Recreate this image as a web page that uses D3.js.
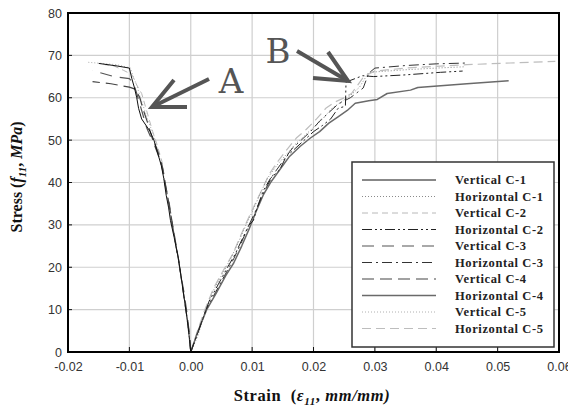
<!DOCTYPE html>
<html><head><meta charset="utf-8">
<script src="https://cdn.jsdelivr.net/npm/d3@7/dist/d3.min.js"></script>
<style>html,body{margin:0;padding:0;background:#fff;}svg{display:block;}</style>
</head><body>
<script>
// ---------- DATA ----------
const seriesNames = ["Vertical C-1","Horizontal C-1","Vertical C-2","Horizontal C-2","Vertical C-3",
  "Horizontal C-3","Vertical C-4","Horizontal C-4","Vertical C-5","Horizontal C-5"];
const xTicks = [-0.02,-0.01,0.00,0.01,0.02,0.03,0.04,0.05,0.06];
const xTickLabels = ["-0.02","-0.01","0.00","0.01","0.02","0.03","0.04","0.05","0.06"];
const yTicks = [0,10,20,30,40,50,60,70,80];
const yTickLabels = ["0","10","20","30","40","50","60","70","80"];

// [strain, stress]
const verticalC1 = [[0,0],[-0.0002,3],[-0.0006,8],[-0.0010,12],[-0.0015,17],[-0.0020,22],[-0.0027,27],[-0.0033,31],[-0.0036,34],[-0.0040,37],[-0.0044,41],[-0.0048,44],[-0.0054,47],[-0.0060,50],[-0.0066,52],[-0.0073,53.5],[-0.0080,55],[-0.0085,57.5],[-0.0088,60],[-0.0092,62.5],[-0.0096,64.5],[-0.0100,67],[-0.0120,67.5],[-0.0150,68.1]];
const horizontalC1 = [[0,0],[0.0012,4],[0.0022,9],[0.0035,14],[0.0050,18],[0.0065,22],[0.0078,26],[0.0090,30],[0.0100,33],[0.0112,37],[0.0125,41],[0.0140,44],[0.0155,46.5],[0.0170,49],[0.0185,51],[0.0200,53],[0.0215,55],[0.0230,57.5],[0.0245,59],[0.0260,60.5],[0.0275,62.5],[0.0290,66],[0.0350,66.6],[0.0400,67],[0.0445,67.3]];
const verticalC2 = [[0,0],[-0.0003,4],[-0.0007,9],[-0.0012,14],[-0.0018,20],[-0.0025,26],[-0.0031,31],[-0.0037,36],[-0.0042,40],[-0.0047,45],[-0.0055,49],[-0.0062,52],[-0.0068,55],[-0.0074,58],[-0.0080,61],[-0.0088,63],[-0.0096,65.5],[-0.0110,66.5],[-0.0125,67.5],[-0.0140,67.8]];
const horizontalC2 = [[0,0],[0.0010,4],[0.0020,8],[0.0030,12],[0.0045,16],[0.0060,20],[0.0072,23],[0.0085,27],[0.0095,30],[0.0102,31],[0.0108,34],[0.0118,38],[0.0130,41],[0.0145,43],[0.0155,46],[0.0170,48],[0.0185,50],[0.0200,52],[0.0215,53.5],[0.0228,55],[0.0240,57.5],[0.0252,58],[0.0253,63.7],[0.0280,65.2],[0.0298,65],[0.0350,65.4],[0.0407,66],[0.0443,66.3]];
const verticalC3 = [[0,0],[-0.0002,4],[-0.0006,9],[-0.0011,14],[-0.0017,19],[-0.0024,25],[-0.0030,30],[-0.0035,35],[-0.0041,39],[-0.0045,43],[-0.0050,46],[-0.0058,49],[-0.0066,51],[-0.0072,53],[-0.0078,56],[-0.0084,59],[-0.0089,61.5],[-0.0094,63.5],[-0.0100,64.5],[-0.0125,65],[-0.0160,66.4]];
const horizontalC3 = [[0,0],[0.0013,5],[0.0025,10],[0.0040,14],[0.0055,18],[0.0070,22],[0.0083,26],[0.0095,30],[0.0108,34],[0.0120,38],[0.0135,42],[0.0150,45],[0.0165,48],[0.0180,50],[0.0195,52],[0.0210,54.5],[0.0225,56.5],[0.0240,58.5],[0.0260,60],[0.0281,62.3],[0.0290,65.8],[0.0300,67],[0.0350,67.6],[0.0400,68],[0.0450,68.2]];
const verticalC4 = [[0,0],[-0.0003,5],[-0.0008,10],[-0.0013,15],[-0.0019,21],[-0.0026,27],[-0.0032,32],[-0.0038,37],[-0.0043,41],[-0.0049,45],[-0.0057,48],[-0.0064,51],[-0.0070,54],[-0.0077,57],[-0.0083,60],[-0.0090,62],[-0.0100,62.5],[-0.0130,63.3],[-0.0160,63.8]];
const horizontalC4 = [[0,0],[0.0012,5],[0.0026,10],[0.0042,14],[0.0057,18],[0.0070,21],[0.0083,25],[0.0095,29],[0.0106,33],[0.0118,37],[0.0130,40],[0.0145,43],[0.0160,46],[0.0178,48.5],[0.0195,50.5],[0.0210,52],[0.0225,54],[0.0240,55.5],[0.0255,57],[0.0268,58.7],[0.0290,59.3],[0.0304,59.6],[0.0320,61],[0.0358,61.8],[0.0370,62.4],[0.0450,63.3],[0.0518,64]];
const verticalC5 = [[0,0],[-0.0004,5],[-0.0009,11],[-0.0014,16],[-0.0020,22],[-0.0028,28],[-0.0034,33],[-0.0040,38],[-0.0046,43],[-0.0053,47],[-0.0060,51],[-0.0068,54],[-0.0075,57],[-0.0082,60],[-0.0088,63],[-0.0095,65.5],[-0.0098,67],[-0.0120,67.8],[-0.0170,68.4]];
const horizontalC5 = [[0,0],[0.0011,5],[0.0023,10],[0.0037,15],[0.0052,19],[0.0068,23],[0.0080,27],[0.0092,31],[0.0105,35],[0.0115,38],[0.0128,42],[0.0142,45],[0.0158,48],[0.0172,50.5],[0.0188,52.5],[0.0205,55],[0.0220,57.5],[0.0235,59],[0.0250,60],[0.0262,61],[0.0272,63],[0.0282,65],[0.0300,66.3],[0.0350,67],[0.0450,67.8],[0.0520,68.2],[0.0594,68.6]];

const seriesData = [verticalC1,horizontalC1,verticalC2,horizontalC2,verticalC3,horizontalC3,verticalC4,horizontalC4,verticalC5,horizontalC5];

// ---------- STYLES ----------
const styles = [
  {c:"#111", w:1, d:null},
  {c:"#8a8a8a", w:1, d:"1,2"},
  {c:"#b8b8b8", w:1, d:"6,4"},
  {c:"#222", w:1, d:"10,3,2,3,2,3"},
  {c:"#555", w:1.2, d:"12,8"},
  {c:"#333", w:1, d:"10,4,2,4"},
  {c:"#444", w:1.2, d:"12,6"},
  {c:"#6a6a6a", w:1.5, d:null},
  {c:"#b0b0b0", w:1, d:"1,2"},
  {c:"#bdbdbd", w:1.2, d:"9,5"}
];

const W = 568, H = 409;
const svg = d3.select("body").append("svg").attr("width", W).attr("height", H);
const x = d3.scaleLinear().domain([-0.02, 0.06]).range([68, 559]);
const y = d3.scaleLinear().domain([0, 80]).range([352, 13]);

// grid
const g = svg.append("g");
g.selectAll("line.vg").data(xTicks.slice(1, -1)).enter().append("line")
  .attr("x1", d => x(d)).attr("x2", d => x(d)).attr("y1", y(0)).attr("y2", y(80))
  .attr("stroke", "#cfcfcf").attr("stroke-width", 1.2);
g.selectAll("line.hg").data(yTicks.slice(1, -1)).enter().append("line")
  .attr("x1", x(-0.02)).attr("x2", x(0.06)).attr("y1", d => y(d)).attr("y2", d => y(d))
  .attr("stroke", "#cfcfcf").attr("stroke-width", 1.2);

// axes
const xAxis = d3.axisBottom(x).tickValues(xTicks).tickFormat((d, i) => xTickLabels[i]).tickSize(0).tickPadding(10);
const yAxis = d3.axisLeft(y).tickValues(yTicks).tickFormat((d, i) => yTickLabels[i]).tickSize(0).tickPadding(6);
const gx = svg.append("g").attr("transform", `translate(0,${y(0)})`).call(xAxis);
const gy = svg.append("g").attr("transform", `translate(${x(-0.02)},0)`).call(yAxis);
[gx, gy].forEach(a => {
  a.select(".domain").remove();
  a.selectAll("text").attr("font-family", "Liberation Sans, Arial, sans-serif").attr("font-size", 12.5).attr("fill", "#333");
});
// small tick marks
svg.selectAll("line.xt").data(xTicks).enter().append("line")
  .attr("x1", d => x(d)).attr("x2", d => x(d)).attr("y1", y(0)).attr("y2", y(0) - 5)
  .attr("stroke", "#111").attr("stroke-width", 1);
svg.selectAll("line.yt").data(yTicks).enter().append("line")
  .attr("x1", x(-0.02)).attr("x2", x(-0.02) + 4).attr("y1", d => y(d)).attr("y2", d => y(d))
  .attr("stroke", "#111").attr("stroke-width", 1);

// curves
const line = d3.line().x(d => x(d[0])).y(d => y(d[1]));
const order = [8,2,9,1,4,6,7,5,3,0];
svg.append("g").selectAll("path").data(order).enter().append("path")
  .attr("d", i => line(seriesData[i]))
  .attr("fill", "none")
  .attr("stroke", i => styles[i].c)
  .attr("stroke-width", i => styles[i].w)
  .attr("stroke-dasharray", i => styles[i].d)
  .attr("stroke-linejoin", "round");

// frame
svg.append("line").attr("x1", x(-0.02)).attr("x2", x(0.06)).attr("y1", y(80)).attr("y2", y(80)).attr("stroke", "#000").attr("stroke-width", 2);
svg.append("line").attr("x1", x(0.06)).attr("x2", x(0.06)).attr("y1", y(80)-1).attr("y2", y(0)+1).attr("stroke", "#000").attr("stroke-width", 2);
svg.append("line").attr("x1", x(-0.02)).attr("x2", x(-0.02)).attr("y1", y(80)-1).attr("y2", y(0)+1).attr("stroke", "#000").attr("stroke-width", 2);
svg.append("line").attr("x1", x(-0.02)-1).attr("x2", x(0.06)+1).attr("y1", y(0)).attr("y2", y(0)).attr("stroke", "#000").attr("stroke-width", 2);

// legend
const lg = svg.append("g");
lg.append("rect").attr("x", 352).attr("y", 162).attr("width", 202).attr("height", 185)
  .attr("fill", "#fff").attr("stroke", "#333").attr("stroke-width", 1.5);
seriesNames.forEach((n, i) => {
  const yy = 180 + i * 16.5;
  lg.append("line").attr("x1", 362).attr("x2", 436).attr("y1", yy).attr("y2", yy)
    .attr("stroke", styles[i].c).attr("stroke-width", styles[i].w).attr("stroke-dasharray", styles[i].d);
  lg.append("text").attr("x", 455).attr("y", yy).attr("dy", "0.35em")
    .attr("font-family", "Liberation Serif, Times New Roman, serif").attr("font-weight", "bold")
    .attr("font-size", 12.5).attr("fill", "#222").attr("letter-spacing", "0.6px").text(n);
});

// annotations
const ac = "#555";
const arrows = [
  {t:"A", tx:231, ty:93, line:[[209,79],[152,107]], head:[[174,80],[152,107],[187,107]]},
  {t:"B", tx:278, ty:63, line:[[297,51],[348,81]], head:[[328,52],[348,81],[313,78]]}
];
arrows.forEach(a => {
  svg.append("path").attr("d", d3.line()(a.line)).attr("stroke", ac).attr("stroke-width", 4).attr("fill", "none").attr("stroke-linecap", "butt");
  svg.append("path").attr("d", d3.line()(a.head)).attr("stroke", ac).attr("stroke-width", 4).attr("fill", "none").attr("stroke-linejoin", "miter");
  svg.append("text").attr("x", a.tx).attr("y", a.ty).attr("text-anchor", "middle")
    .attr("font-family", "DejaVu Serif, serif").attr("font-size", 34).attr("fill", ac).text(a.t);
});

// axis titles
const xt = svg.append("text").attr("x", 312).attr("y", 401).attr("text-anchor", "middle")
  .attr("font-family", "Liberation Serif, Times New Roman, serif").attr("font-weight", "bold").attr("font-size", 16.5).attr("letter-spacing", "0.6px").attr("fill", "#111");
xt.append("tspan").text("Strain\u00a0\u00a0(");
xt.append("tspan").attr("font-style", "italic").text("ε");
xt.append("tspan").attr("font-style", "italic").attr("font-size", 11).attr("dy", 4).text("11");
xt.append("tspan").attr("dy", -4).text(", ");
xt.append("tspan").attr("font-style", "italic").text("mm/mm)");

const yt = svg.append("text").attr("transform", "translate(22,177) rotate(-90)").attr("text-anchor", "middle")
  .attr("font-family", "Liberation Serif, Times New Roman, serif").attr("font-weight", "bold").attr("font-size", 16).attr("fill", "#111");
yt.append("tspan").text("Stress (");
yt.append("tspan").attr("font-style", "italic").text("f");
yt.append("tspan").attr("font-style", "italic").attr("font-size", 11).attr("dy", 4).text("11");
yt.append("tspan").attr("dy", -4).text(", ");
yt.append("tspan").attr("font-style", "italic").text("MPa");
yt.append("tspan").text(")");
</script>
</body></html>
